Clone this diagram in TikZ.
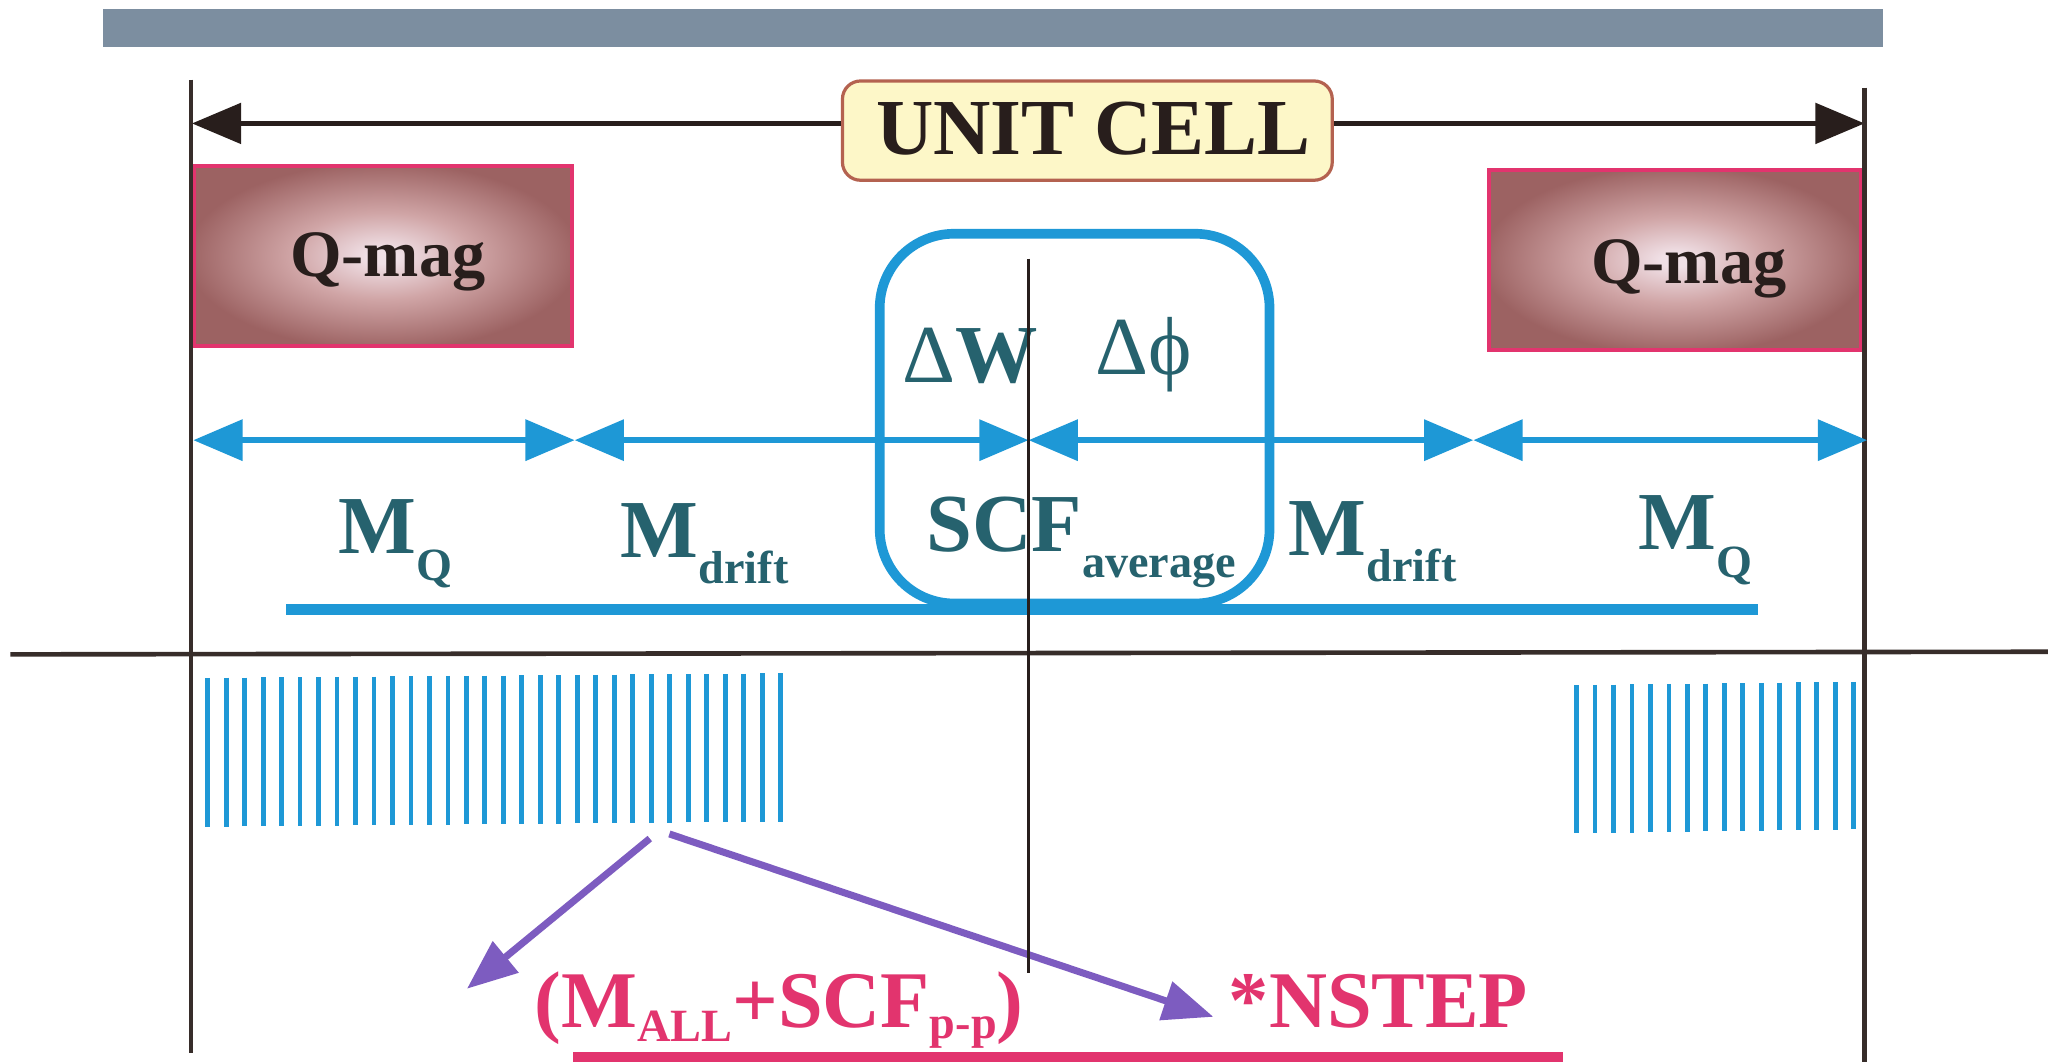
\documentclass[tikz,border=0pt]{standalone}
\usepackage{fontspec}
\setmainfont{Liberation Serif}
\usetikzlibrary{arrows.meta}
\definecolor{barc}{RGB}{124,142,160}
\definecolor{darkln}{RGB}{55,45,42}
\definecolor{bluec}{RGB}{30,152,214}
\definecolor{tealc}{RGB}{38,98,110}
\definecolor{pinkc}{RGB}{226,52,110}
\definecolor{purpc}{RGB}{125,92,192}
\definecolor{qin}{RGB}{240,224,230}
\definecolor{qmid}{RGB}{208,165,166}
\definecolor{qout}{RGB}{156,98,98}
\definecolor{ucfill}{RGB}{253,247,200}
\definecolor{ucdraw}{RGB}{180,98,80}
\definecolor{uctext}{RGB}{40,30,28}
\pgfdeclareradialshading{qmagshade}{\pgfpoint{0bp}{0bp}}{color(0bp)=(qin); color(2bp)=(qin); color(12bp)=(qmid); color(26bp)=(qout); color(50bp)=(qout)}
\newcommand{\lsub}[2]{\raisebox{-#1}{\fontsize{23}{23}\selectfont #2}}
\tikzset{
  bigtxt/.style={font=\fontsize{41}{41}\selectfont\bfseries, inner sep=0pt, anchor=base west},
  tealtxt/.style={bigtxt, text=tealc},
  pinktxt/.style={bigtxt, font=\fontsize{40}{40}\selectfont\bfseries, text=pinkc},
  qbox/.style={draw=pinkc, line width=2pt, shade, shading=qmagshade, minimum width=186pt, minimum height=89.7pt, inner sep=0pt},
  qtxt/.style={font=\fontsize{33}{33}\selectfont\bfseries, text=uctext, inner sep=0pt, anchor=base},
  blackline/.style={draw=darkln, line width=2.1pt},
  uarrow/.style={draw=uctext, line width=2.2pt, -{Triangle[length=24.4pt,width=20pt]}},
  barrow/.style={draw=bluec, fill=bluec, line width=3pt, {Triangle[length=24.5pt,width=20pt]}-{Triangle[length=24.5pt,width=20pt]}},
  parrow/.style={draw=purpc, line width=3.5pt, -{Triangle[length=25pt,width=19.5pt]}},
  combline/.style={draw=bluec, line width=2.4pt},
}
\begin{document}
\begin{tikzpicture}[x=0.65pt, y=-0.65pt]
\useasboundingbox (0,0) rectangle (1568,813);
% top bar
\fill[barc] (79,7) rectangle (1442,36);
% Q-mag boxes
\node[qbox, minimum width=188pt] (qL) at (293,196) {};
\node[qbox, minimum width=185pt] (qR) at (1282.5,199) {};
\node[qtxt] (qLt) at (297,212) {Q-mag};
\node[qtxt] (qRt) at (1293,217) {Q-mag};
% unit cell
\node[draw=ucdraw, fill=ucfill, line width=1.6pt, rounded corners=9pt, minimum width=243.75pt, minimum height=49.4pt, inner sep=0pt] (uc) at (832.5,100) {};
\node[font=\fontsize{39.5}{39.5}\selectfont\bfseries, text=uctext, inner sep=0pt, anchor=base] (uct) at (837,118) {UNIT CELL};
% vertical lines
\coordinate (vLt) at (146.5,61);
\coordinate (vLb) at (146.5,806);
\coordinate (vRt) at (1427.5,67);
\coordinate (vRb) at (1427.5,813);
\coordinate (al) at (147,94.5);
\coordinate (ar) at (1427.5,94.5);
\draw[uarrow] (uc.west |- al) -- (al);
\draw[uarrow] (uc.east |- ar) -- (ar);
\draw[blackline] (vLt) -- (vLb);
\draw[blackline] (vRt) -- (vRb);
% blue arrows
\coordinate (b0) at (148,337);
\coordinate (b1) at (440,337);
\coordinate (b2) at (787.5,337);
\coordinate (b3) at (1128,337);
\coordinate (b4) at (1429.5,337);
\draw[barrow] (b0) -- (b1);
\draw[barrow] (b1) -- (b2);
\draw[barrow] (b2) -- (b3);
\draw[barrow] (b3) -- (b4);
% blue rounded box and base line
\node[draw=bluec, line width=4.8pt, rounded corners=37pt, minimum width=194pt, minimum height=184pt, inner sep=0pt] (scf) at (822.75,320.5) {};
\coordinate (h1) at (219,467);
\coordinate (h2) at (1346,467);
\draw[draw=bluec, line width=5.5pt] (h1) -- (h2);
% teal labels
\node[tealtxt] (dW) at (691,293) {{\mdseries Δ}W};
\node[tealtxt] (dphi) at (838.5,286.5) {\mdseries Δϕ};
\node[tealtxt] (scft) at (709,422.5) {SCF\lsub{13pt}{average}};
\node[tealtxt] (mq1) at (259,423.5) {M\lsub{13.5pt}{Q}};
\node[tealtxt] (md1) at (475,427) {M\lsub{13pt}{drift}};
\node[tealtxt] (md2) at (986.5,425) {M\lsub{13pt}{drift}};
\node[tealtxt] (mq2) at (1254,421) {M\lsub{13.5pt}{Q}};
% black horizontal line
\coordinate (hx1) at (8,501);
\coordinate (hx2) at (1568,499);
\draw[draw=darkln, line width=2.3pt] (hx1) -- (hx2);
% combs
\foreach \i in {0,...,31}
  \draw[combline] ({159+14.15*\i},{519-3.5*\i/31}) -- ({159+14.15*\i},{633-4*\i/31});
\foreach \i in {0,...,15}
  \draw[combline] ({1207+14.15*\i},{524.5-2.5*\i/15}) -- ({1207+14.15*\i},{638-3*\i/15});
% pink texts
\node[pinktxt] (mall) at (409,787) {(M\lsub{7pt}{ALL}+SCF\lsub{5.5pt}{p-p})};
\node[pinktxt] (nstep) at (940.5,787) {*NSTEP};
\fill[pinkc] (439,805.5) rectangle (1197,813);
% purple arrows
\coordinate (p1s) at (497.5,642);
\coordinate (p1e) at (357.5,757);
\coordinate (p2s) at (512.5,638.5);
\coordinate (p2e) at (929,778.5);
\draw[parrow] (p1s) -- (p1e);
\draw[parrow] (p2s) -- (p2e);
% center line
\coordinate (c1) at (787.5,198);
\coordinate (c2) at (787.5,745);
\draw[draw=uctext, line width=1.1pt] (c1) -- (c2);
\end{tikzpicture}
\end{document}
